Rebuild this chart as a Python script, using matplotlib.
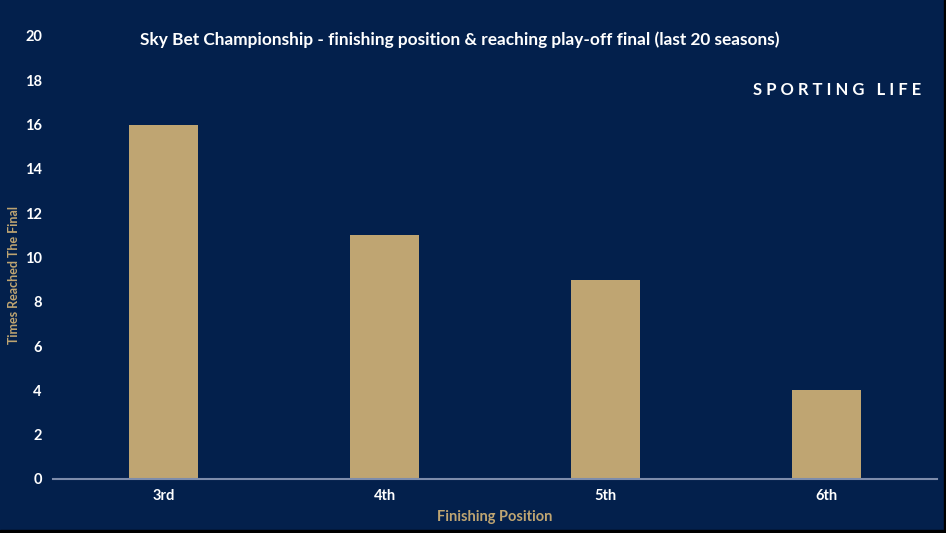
import matplotlib.pyplot as plt
from matplotlib.patches import Rectangle

# Data
positions = ['3rd', '4th', '5th', '6th']
times_reached = [16, 11, 9, 4]
y_ticks = [0, 2, 4, 6, 8, 10, 12, 14, 16, 18, 20]

navy = '#03204c'
gold = '#bfa572'
plt.rcParams['font.family'] = ['Lato', 'DejaVu Sans']

fig = plt.figure(figsize=(9.46, 5.33), dpi=100, facecolor=navy)
ax = fig.add_axes([53/946, 1 - 479/533, 884/946, 443/533])
ax.set_facecolor(navy)

x = range(len(positions))
ax.bar(x, times_reached, width=0.312, color=gold, zorder=2)

ax.set_xlim(-0.5, len(positions) - 0.5)
ax.set_ylim(0, 20)
ax.set_yticks(y_ticks)
ax.set_xticks(list(x))
ax.set_xticklabels(positions)

for s in ['top', 'right', 'left']:
    ax.spines[s].set_visible(False)
ax.spines['bottom'].set_color('#7d8cab')
ax.spines['bottom'].set_linewidth(1.5)
ax.tick_params(axis='both', length=0, colors='white', labelsize=10.5)
ax.tick_params(axis='y', pad=8)
ax.tick_params(axis='x', pad=7)
for lab in ax.get_xticklabels() + ax.get_yticklabels():
    lab.set_fontweight('bold')

ax.set_xlabel('Finishing Position', color=gold, fontsize=10.5,
              fontweight='bold', labelpad=5)
fig.text(14/946, 1 - 275/533, 'Times Reached The Final', color=gold,
         fontsize=9, fontweight='bold', rotation=90, ha='center', va='center')

fig.text(460/946, 1 - 40/533,
         'Sky Bet Championship - finishing position & reaching play-off final (last 20 seasons)',
         color='white', fontsize=12.4, fontweight='bold', ha='center', va='center')
fig.text(837/946, 1 - 90/533, 'S P O R T I N G   L I F E', color='white',
         fontsize=12, fontweight='bold', ha='center', va='center')

# thin dark frame on the bottom and right edges
fig.patches.append(Rectangle((0, 0), 1, 3/533, transform=fig.transFigure,
                             color='black', zorder=10))
fig.patches.append(Rectangle((944/946, 0), 2/946, 1, transform=fig.transFigure,
                             color='black', zorder=10))

fig.savefig('out.png', dpi=100, facecolor=navy)
